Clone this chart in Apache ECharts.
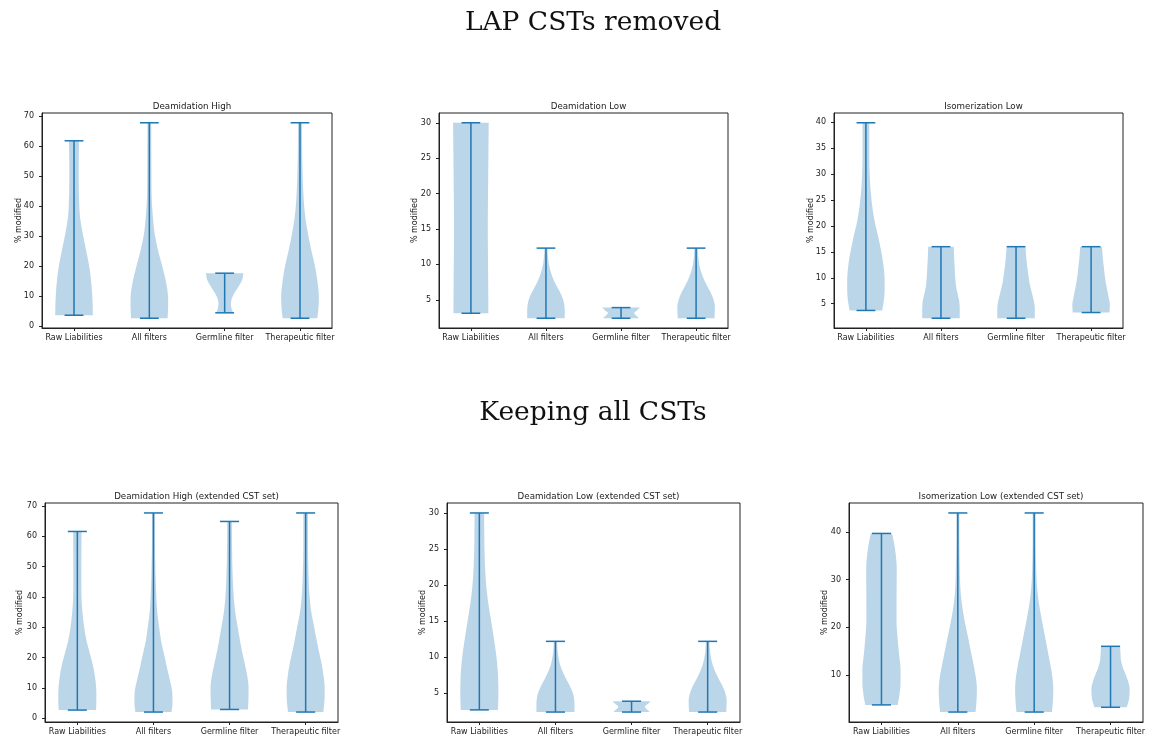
<!DOCTYPE html>
<html><head><meta charset="utf-8">
<script src="https://cdn.jsdelivr.net/npm/echarts@6/dist/echarts.min.js"></script>
<style>html,body{margin:0;padding:0;background:#fff}#c{width:1155px;height:736px}</style>
</head><body><div id="c"></div>
<script>
// ---------------- DATA ----------------
const categories = ['Raw Liabilities', 'All filters', 'Germline filter', 'Therapeutic filter'];
const sectionTitles = ['LAP CSTs removed', 'Keeping all CSTs'];
const panelTitles = ['Deamidation High', 'Deamidation Low', 'Isomerization Low',
  'Deamidation High (extended CST set)', 'Deamidation Low (extended CST set)', 'Isomerization Low (extended CST set)'];
const yAxisName = '% modified';

// tick labels
const ticksDH = [0, 10, 20, 30, 40, 50, 60, 70];
const ticksDL = [5, 10, 15, 20, 25, 30];
const ticksIL = [5, 10, 15, 20, 25, 30, 35, 40];
const ticksDHX = [0, 10, 20, 30, 40, 50, 60, 70];
const ticksDLX = [5, 10, 15, 20, 25, 30];
const ticksILX = [10, 20, 30, 40];

// violin extremes (min / max of each category)
const minDH = [3.7, 2.7, 4.5, 2.7];
const maxDH = [61.8, 67.8, 17.7, 67.8];
const minDL = [3.1, 2.4, 2.4, 2.4];
const maxDL = [30.0, 12.3, 3.9, 12.3];
const minIL = [3.7, 2.2, 2.2, 3.3];
const maxIL = [39.9, 16.0, 16.0, 16.0];
const minDHX = [2.75, 2.1, 2.95, 2.1];
const maxDHX = [61.6, 67.7, 64.9, 67.7];
const minDLX = [2.7, 2.4, 2.4, 2.4];
const maxDLX = [30.0, 12.2, 3.9, 12.2];
const minILX = [3.7, 2.2, 2.2, 3.2];
const maxILX = [39.7, 44.0, 44.0, 16.0];

// violin density profiles: [value, relative width (1 = widest)]
const shapeDH = [
  [[3.7,1.0],[8.8,0.98],[14.3,0.92],[19.9,0.81],[25.4,0.64],[31,0.46],[36.5,0.32],[42,0.27],[53,0.25],[61.8,0.27]],
  [[2.7,0.97],[5,0.99],[8.8,1.0],[14.3,0.9],[19.9,0.69],[25.4,0.46],[31,0.28],[36.5,0.19],[42,0.13],[53,0.11],[67.8,0.1]],
  [[4.5,0.45],[6,0.36],[7.7,0.33],[9.9,0.42],[11.5,0.56],[13.2,0.73],[15.5,0.93],[17.7,1.0]],
  [[2.7,0.92],[6,0.98],[10,1.0],[14.3,0.94],[19.9,0.8],[25.4,0.6],[31,0.42],[36.5,0.28],[42,0.2],[53,0.13],[67.8,0.1]]
];
const shapeDL = [
  [[3.1,0.93],[8,0.92],[15,0.9],[22,0.92],[30,0.95]],
  [[2.4,1.0],[4,0.99],[5,0.92],[6,0.76],[7,0.56],[8,0.38],[9,0.25],[10,0.16],[11,0.11],[12.3,0.08]],
  [[2.4,0.96],[2.8,0.8],[3.15,0.7],[3.5,0.85],[3.9,1.0]],
  [[2.4,0.98],[4,1.0],[5,0.93],[6,0.78],[7,0.58],[8,0.4],[9,0.26],[10,0.17],[11,0.12],[12.3,0.09]]
];
const shapeIL = [
  [[3.7,0.87],[6,0.97],[9,1.0],[12,0.95],[15,0.82],[18,0.65],[21,0.46],[25,0.3],[30,0.2],[35,0.18],[39.9,0.18]],
  [[2.2,1.0],[4,1.0],[5.5,0.97],[7,0.88],[8.5,0.8],[10,0.76],[12,0.73],[14,0.7],[16,0.68]],
  [[2.2,1.0],[4,1.0],[5.5,0.95],[7,0.85],[9,0.72],[11,0.64],[13,0.57],[16,0.5]],
  [[3.3,0.98],[4.7,1.0],[6.35,0.93],[8,0.84],[9.6,0.76],[12,0.68],[14,0.62],[16,0.58]]
];
const shapeDHX = [
  [[2.75,0.98],[6,1.0],[10,0.99],[14,0.92],[18,0.8],[22,0.63],[26,0.47],[30,0.36],[35,0.27],[40,0.22],[50,0.21],[61.6,0.22]],
  [[2.1,0.95],[5,1.0],[9,0.98],[13,0.85],[17,0.7],[20,0.6],[25,0.42],[30,0.3],[35,0.2],[40,0.15],[50,0.1],[60,0.08],[67.7,0.08]],
  [[2.95,0.97],[6,0.99],[10,1.0],[14,0.93],[18,0.8],[22,0.66],[26,0.54],[30,0.43],[35,0.3],[40,0.22],[50,0.15],[64.9,0.12]],
  [[2.1,0.93],[6,0.99],[10,1.0],[14,0.94],[18,0.84],[22,0.7],[26,0.57],[30,0.45],[35,0.3],[40,0.21],[50,0.14],[67.7,0.12]]
];
const shapeDLX = [
  [[2.7,0.98],[5,1.0],[8,0.97],[10,0.9],[12.5,0.77],[15,0.62],[17.5,0.47],[20,0.36],[22.5,0.3],[25,0.27],[30,0.25]],
  [[2.4,1.0],[4,0.99],[5,0.92],[6,0.76],[7,0.56],[8,0.38],[9,0.24],[10,0.16],[11,0.11],[12.2,0.08]],
  [[2.4,0.96],[2.8,0.8],[3.15,0.7],[3.5,0.85],[3.9,1.0]],
  [[2.4,0.98],[4,1.0],[5,0.93],[6,0.78],[7,0.58],[8,0.4],[9,0.26],[10,0.17],[11,0.12],[12.2,0.09]]
];
const shapeILX = [
  [[3.7,0.85],[5.5,0.93],[8.5,1.0],[11,1.0],[14.4,0.92],[18,0.84],[21.3,0.79],[25,0.79],[32,0.8],[35.2,0.75],[38.9,0.6],[39.7,0.55]],
  [[2.2,0.93],[4,0.97],[7,1.0],[9,0.96],[11,0.88],[14.6,0.7],[18,0.53],[21.5,0.35],[25,0.21],[28.5,0.13],[33,0.1],[40,0.08],[44,0.08]],
  [[2.2,0.93],[4,0.97],[7,1.0],[9,0.97],[11,0.9],[14.6,0.73],[18,0.57],[21.5,0.4],[25,0.25],[28.5,0.15],[33,0.1],[40,0.08],[44,0.08]],
  [[3.2,0.85],[5,0.97],[7,1.0],[8.5,0.93],[10,0.8],[11.5,0.65],[13,0.55],[14.5,0.52],[16,0.5]]
];

// ---------------- LAYOUT ----------------
const panels = [
  {title: panelTitles[0], ticks: ticksDH, mins: minDH, maxs: maxDH, shapes: shapeDH},
  {title: panelTitles[1], ticks: ticksDL, mins: minDL, maxs: maxDL, shapes: shapeDL},
  {title: panelTitles[2], ticks: ticksIL, mins: minIL, maxs: maxIL, shapes: shapeIL},
  {title: panelTitles[3], ticks: ticksDHX, mins: minDHX, maxs: maxDHX, shapes: shapeDHX},
  {title: panelTitles[4], ticks: ticksDLX, mins: minDLX, maxs: maxDLX, shapes: shapeDLX},
  {title: panelTitles[5], ticks: ticksILX, mins: minILX, maxs: maxILX, shapes: shapeILX}
];
const gridBoxes = [
  {left: 42, top: 113, width: 290, height: 215},
  {left: 439, top: 113, width: 289, height: 215},
  {left: 834, top: 113, width: 289, height: 215},
  {left: 45, top: 503, width: 293, height: 219},
  {left: 447, top: 503, width: 293, height: 219},
  {left: 849, top: 503, width: 294, height: 219}
];
const nameGaps = [23, 24, 23, 25, 24, 24];
const titleTops = [97, 97, 97, 487, 487, 487];
const sectionY = [5, 395];

const BLUE = '#1f77b4';
const FILL = 'rgba(31,119,180,0.3)';
const TEXT = '#1a1a1a';
const HALF = 0.25;   // half width of widest violin (x units)
const CAP = 0.125;   // half width of caps

function hermiteSample(shape) {
  const n = shape.length, out = [];
  const slopes = shape.map((p, i) => {
    if (n < 2) return 0;
    if (i === 0) return (shape[1][1] - shape[0][1]) / (shape[1][0] - shape[0][0]);
    if (i === n - 1) return (shape[n-1][1] - shape[n-2][1]) / (shape[n-1][0] - shape[n-2][0]);
    const d0 = (shape[i][1] - shape[i-1][1]) / (shape[i][0] - shape[i-1][0]);
    const d1 = (shape[i+1][1] - shape[i][1]) / (shape[i+1][0] - shape[i][0]);
    if (d0 * d1 <= 0) return 0;
    return (d0 + d1) / 2;
  });
  for (let i = 0; i < n - 1; i++) {
    const [y0, w0] = shape[i], [y1, w1] = shape[i+1];
    const h = y1 - y0;
    const steps = 10;
    for (let s = 0; s < steps; s++) {
      const t = s / steps, t2 = t*t, t3 = t2*t;
      const w = (2*t3 - 3*t2 + 1) * w0 + (t3 - 2*t2 + t) * h * slopes[i] + (-2*t3 + 3*t2) * w1 + (t3 - t2) * h * slopes[i+1];
      out.push([y0 + t * h, Math.max(0, w)]);
    }
  }
  out.push(shape[n-1]);
  return out;
}

function makeRender(p) {
  return function (params, api) {
    const i = params.dataIndex;
    const pos = api.value(0);
    const pts = hermiteSample(p.shapes[i]);
    const right = pts.map(([y, w]) => api.coord([pos + HALF * w, y]));
    const left = pts.slice().reverse().map(([y, w]) => api.coord([pos - HALF * w, y]));
    const lo = p.mins[i], hi = p.maxs[i];
    const b = api.coord([pos, lo]), t = api.coord([pos, hi]);
    const bl = api.coord([pos - CAP, lo]), br = api.coord([pos + CAP, lo]);
    const tl = api.coord([pos - CAP, hi]), tr = api.coord([pos + CAP, hi]);
    const ls = {stroke: BLUE, lineWidth: 1.5};
    return {
      type: 'group',
      children: [
        {type: 'polygon', shape: {points: right.concat(left)}, style: {fill: FILL}},
        {type: 'line', shape: {x1: b[0], y1: b[1], x2: t[0], y2: t[1]}, style: ls},
        {type: 'line', shape: {x1: bl[0], y1: bl[1], x2: br[0], y2: br[1]}, style: ls},
        {type: 'line', shape: {x1: tl[0], y1: tl[1], x2: tr[0], y2: tr[1]}, style: ls}
      ]
    };
  };
}

const grids = [], xAxes = [], yAxes = [], series = [], titles = [];
const positions = categories.map((c, i) => i + 1);

sectionTitles.forEach((s, k) => {
  titles.push({text: s, left: 588, top: sectionY[k], textAlign: 'center',
    textStyle: {fontFamily: 'DejaVu Serif', fontWeight: 'normal', fontSize: 26.5, color: '#111'}});
});

panels.forEach((p, k) => {
  const g = gridBoxes[k];
  grids.push(Object.assign({show: true, borderColor: '#222', borderWidth: 1, backgroundColor: 'transparent', containLabel: false}, g));
  titles.push({text: p.title, left: g.left + g.width / 2, top: titleTops[k], textAlign: 'center',
    textStyle: {fontFamily: 'DejaVu Sans', fontWeight: 'normal', fontSize: 8.7, color: TEXT}});
  const lo = Math.min(...p.mins), hi = Math.max(...p.maxs), r = hi - lo;
  xAxes.push({
    gridIndex: k, type: 'value', min: 0.575, max: 4.425,
    axisLine: {show: true, onZero: false, lineStyle: {color: '#222', width: 1}},
    axisTick: {show: true, length: 3, customValues: positions, lineStyle: {color: '#222'}},
    axisLabel: {customValues: positions, formatter: v => categories[Math.round(v) - 1], fontFamily: 'DejaVu Sans', fontSize: 8, color: TEXT, margin: 6},
    splitLine: {show: false}
  });
  yAxes.push({
    gridIndex: k, type: 'value', min: lo - 0.05 * r, max: hi + 0.05 * r,
    name: yAxisName, nameLocation: 'middle', nameGap: nameGaps[k], nameMoveOverlap: false,
    nameTextStyle: {fontFamily: 'DejaVu Sans', fontSize: 8, color: TEXT, verticalAlign: 'middle'},
    axisLine: {show: true, onZero: false, lineStyle: {color: '#222', width: 1}},
    axisTick: {show: true, length: 3, customValues: p.ticks, lineStyle: {color: '#222'}},
    axisLabel: {customValues: p.ticks, fontFamily: 'DejaVu Sans', fontSize: 8, color: TEXT, margin: 8},
    splitLine: {show: false}
  });
  series.push({
    type: 'custom', coordinateSystem: 'cartesian2d', xAxisIndex: k, yAxisIndex: k,
    data: positions.map(v => [v]), encode: {x: 0}, silent: true, clip: false,
    renderItem: makeRender(p)
  });
});

const chart = echarts.init(document.getElementById('c'), null, {renderer: 'canvas'});
chart.setOption({
  animation: false, backgroundColor: '#fff',
  title: titles, grid: grids, xAxis: xAxes, yAxis: yAxes, series: series
});
</script></body></html>
